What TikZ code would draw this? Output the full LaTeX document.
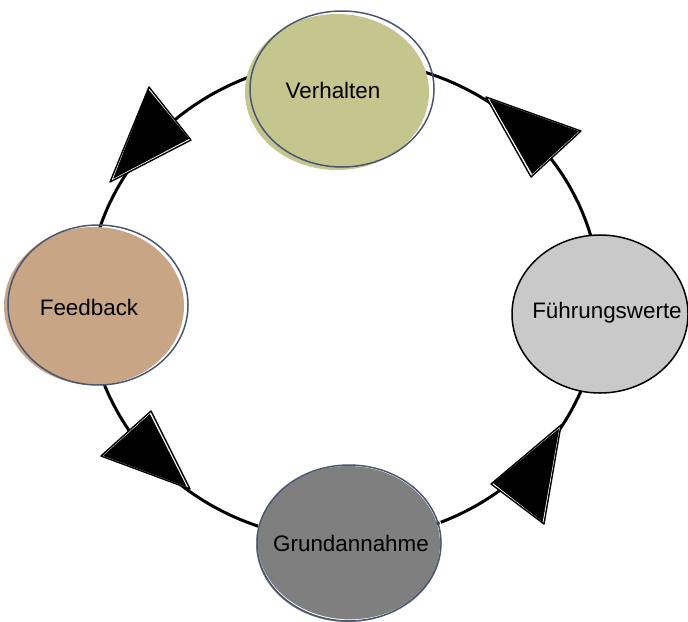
\documentclass[tikz,border=0pt]{standalone}
\usepackage{fontspec}
\setmainfont{Liberation Sans}
\usetikzlibrary{shapes.geometric}

\definecolor{verhfill}{HTML}{C5C58E}
\definecolor{feedfill}{HTML}{C8A585}
\definecolor{fuehrfill}{HTML}{C9C9C9}
\definecolor{grundfill}{HTML}{7F7F7F}
\definecolor{edgeblue}{HTML}{4A5773}

\tikzset{
  ring/.style={line width=1.5pt},
  blobfill/.style={ellipse, inner sep=0pt, draw=none},
  bubble/.style={ellipse, inner sep=0pt, draw=edgeblue, line width=0.75pt},
  caption/.style={font=\fontsize{11.2pt}{13pt}\selectfont, text=black, inner sep=0pt},
  headfill/.style={fill=black, draw=white, line width=0.45pt, line join=round},
  headedge/.style={draw=black, line width=0.7pt, line join=round},
}

\begin{document}
\begin{tikzpicture}[x=0.5pt, y=-0.5pt]
  \useasboundingbox (0,0) rectangle (688,621);

  % the cycle ring behind the four stages
  \coordinate (hub) at (344,300);
  \draw[ring] (hub) ellipse [x radius=128pt, y radius=120pt];

  % arrow heads along the ring (sketchy double edge)
  \filldraw[headfill] (112,180) -- (148,88) -- (190,139) -- cycle;
  \draw[headedge] (110,182) -- (149,87) -- (191,140) -- cycle;

  \filldraw[headfill] (188,488) -- (150,413) -- (102,456) -- cycle;
  \draw[headedge] (190,489) -- (151,411) -- (101,456) -- cycle;

  \filldraw[headfill] (560,427) -- (492,483) -- (543,523) -- cycle;
  \draw[headedge] (561,425) -- (491,484) -- (544,524) -- cycle;

  \filldraw[headfill] (488,98) -- (580,131) -- (532,175) -- cycle;
  \draw[headedge] (486,97) -- (581,131) -- (531,177) -- cycle;

  % stages
  \node[blobfill, fill=verhfill, minimum width=92pt, minimum height=78pt] at (337,92) {};
  \node[bubble, minimum width=92pt, minimum height=78pt] (verh) at (342,89) {};
  \node[caption] (verht) at (333,90) {Verhalten};

  \node[blobfill, fill=fuehrfill, minimum width=88pt, minimum height=79pt] at (600,314) {};
  \node[bubble, draw=black, minimum width=88pt, minimum height=79pt] (fuehr) at (600,314) {};
  \node[caption] (fuehrt) at (607,313) {Führungswerte};

  \node[blobfill, fill=grundfill, minimum width=92pt, minimum height=78pt] at (348,544) {};
  \draw[white, line width=0.6pt] (350,542) ellipse [x radius=46.5pt, y radius=39pt];
  \node[bubble, minimum width=92pt, minimum height=78pt] (grund) at (349,543) {};
  \node[caption] (grundt) at (351,543) {Grundannahme};

  \node[blobfill, fill=feedfill, minimum width=90pt, minimum height=79pt] at (94,306) {};
  \node[bubble, minimum width=90pt, minimum height=80pt] (feed) at (98,305) {};
  \node[caption] (feedt) at (89,307) {Feedback};
\end{tikzpicture}
\end{document}
